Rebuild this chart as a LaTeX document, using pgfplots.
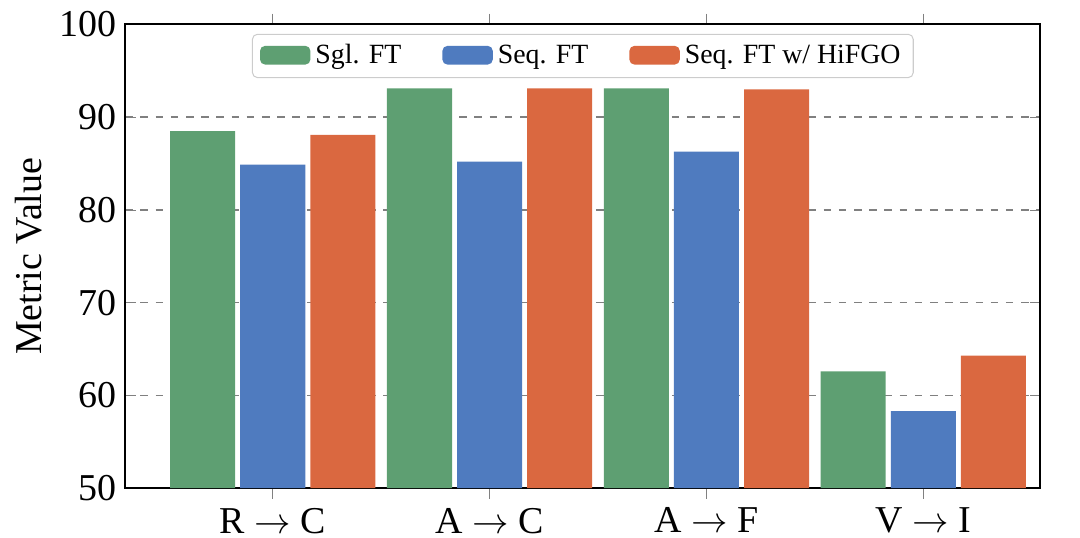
\documentclass[border=0pt]{standalone}
\usepackage{pgfplots}
\pgfplotsset{compat=1.18}
\usepackage{fontspec}
\setmainfont{Liberation Serif}
\definecolor{cg}{HTML}{5E9F72}
\definecolor{cb}{HTML}{4F7BBF}
\definecolor{co}{HTML}{DA6840}
\begin{document}
\begin{tikzpicture}
\path[use as bounding box] (-1.74cm,-0.69cm) rectangle (13.26cm,6.78cm);
\begin{axis}[
 at={(0,0)}, anchor=south west, scale only axis,
 width=12.71cm, height=6.44cm,
 ybar, bar width=0.3, bar shift auto,
 xmin=-0.68, xmax=3.54, ymin=50, ymax=100,
 xtick={0,1,2,3}, xticklabels={R $\rightarrow$ C, A $\rightarrow$ C, A $\rightarrow$ F, V $\rightarrow$ I},
 ytick={50,60,...,100},
 /pgf/number format/assume math mode=true,
 ticklabel style={font=\fontsize{15}{17}\selectfont},
 ylabel={Metric Value}, ylabel style={font=\fontsize{15}{17}\selectfont},
 ymajorgrids, grid style={dashed, gray, line width=0.6pt},
 axis on top=false, axis line style={line width=0.8pt},
 legend style={at={(0.5,0.98)}, anchor=north, legend columns=3, font=\fontsize{11}{13}\selectfont, draw=gray!40, rounded corners=2pt, /tikz/every even column/.append style={column sep=0.5cm}},
 legend image code/.code={\fill[#1] (0cm,-0.12cm) rectangle (0.7cm,0.14cm);},
]
\addplot[fill=cg, draw=none] coordinates {(0,88.5) (1,93.1) (2,93.1) (3,62.6)};
\addplot[fill=cb, draw=none] coordinates {(0,84.9) (1,85.2) (2,86.3) (3,58.3)};
\addplot[fill=co, draw=none] coordinates {(0,88.1) (1,93.1) (2,93.0) (3,64.3)};
\legend{Sgl. FT, Seq. FT, Seq. FT w/ HiFGO}
\end{axis}
\end{tikzpicture}
\end{document}
